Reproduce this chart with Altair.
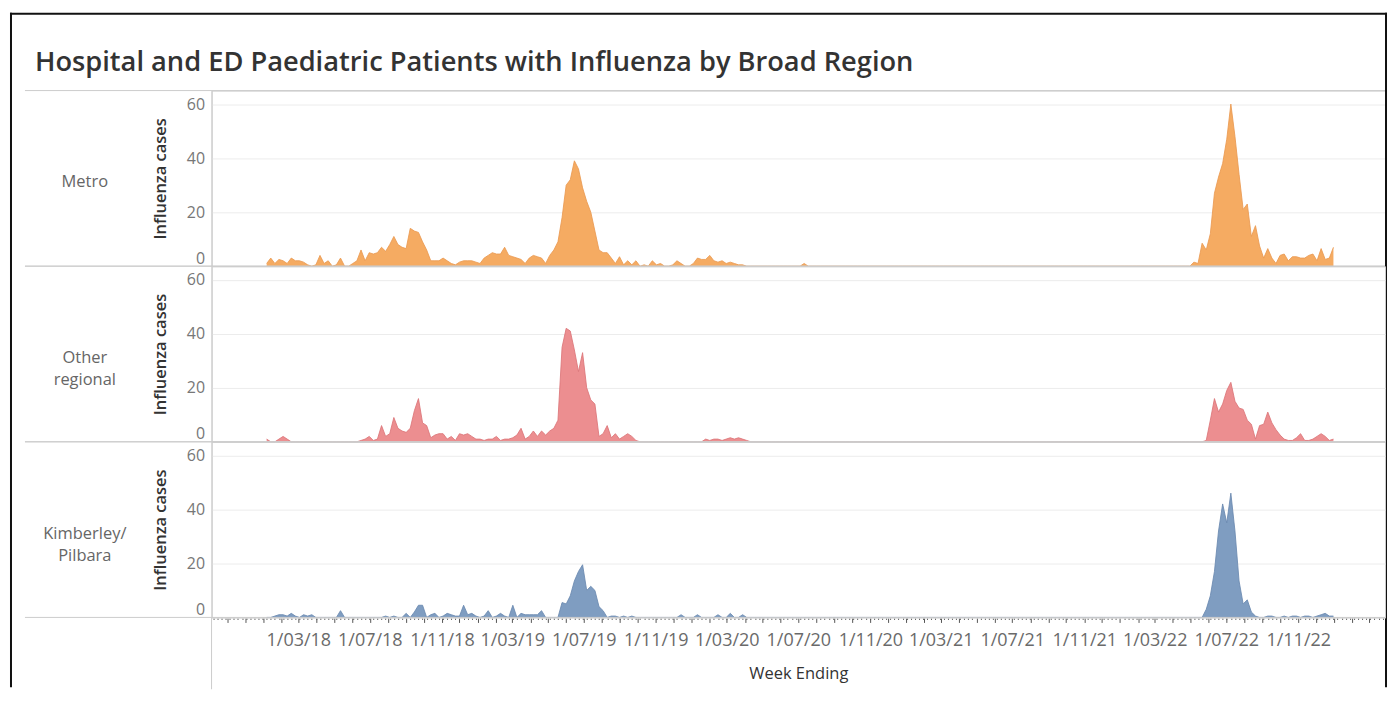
import altair as alt
import pandas as pd

TITLE = "Hospital and ED Paediatric Patients with Influenza by Broad Region"
REGIONS = ["Metro", "Other regional", "Kimberley/Pilbara"]
FILL_COLORS = ["#F5AB62", "#EC8E90", "#7F9DC1"]
LINE_COLORS = ["#EA9A52", "#DC7578", "#6A89B0"]
FIRST_WEEK = "2018-01-06"
N_WEEKS = 261
X_AXIS_TITLE = "Week Ending"
Y_AXIS_TITLE = "Influenza cases"
Y_TICKS = [0, 20, 40, 60]
LABEL_YEARS = [2018, 2022]  # first and last year that carry x tick labels

# weekly case counts (week 0 = w/e 6 Jan 2018)
METRO = (
    [1, 3, 1, 2.5, 2, 1, 3, 2, 2, 1.5,
     0.5, 0, 0.5, 4, 1, 2, 0, 0.5, 3, 0,
     0, 1, 2, 6, 2, 5, 4.5, 5, 7, 5.5,
     8, 11, 8, 7, 6.5, 14, 13, 12.5, 9, 6,
     2, 2, 2, 3, 2, 1, 0.5, 1.5, 2, 2,
     2, 1.5, 1, 3, 4, 5, 4.5, 4.5, 7, 4,
     3.5, 3, 2.5, 1, 3, 4, 3.5, 3, 1, 4,
     6, 9, 18, 30, 32, 39, 36, 29, 24, 20,
     13, 6, 5, 5, 3, 1, 3.5, 0.5, 2, 0.5,
     2, 0]
    + [0.5, 0, 2, 0.5, 1, 0, 0, 0.5, 2, 1,
       0, 0, 1, 3, 2.5, 2.5, 4, 2, 1.5, 2,
       1, 1.5, 1, 0.5, 0.5]
    + [0] * 14 + [1] + [0] * 94
    + [1.5, 1, 8.5, 6, 12, 27, 33, 38, 47, 60,
       48, 34, 21, 23, 11, 15, 7.5, 3, 6.5, 3,
       1, 4, 4.5, 2, 3.5, 3.5, 3, 3, 4, 4.5,
       2, 6.5, 2.5, 3, 7]
)

OTHER = (
    [1, 0, 0, 1, 2, 1, 0, 0, 0, 0,
     0, 0, 0, 0, 0, 0, 0, 0, 0, 0,
     0, 0, 0, 0.5, 1, 2, 0.5, 1, 6, 2,
     3, 9, 5, 4, 3.5, 5, 11.5, 16, 7, 6,
     1.5, 2.5, 3, 3, 1, 2, 0.5, 3, 2.5, 3,
     2, 1, 1, 0.5, 1, 1, 2, 0.5, 1, 1,
     1.5, 2.5, 5, 1, 2, 4, 2, 4, 2.5, 4,
     5, 8, 35, 42, 41, 34, 26, 33, 20, 15.5,
     14, 2, 3, 6, 1.5, 3, 1, 2, 3, 2,
     0.5, 0]
    + [0] * 15
    + [1, 0.5, 1, 1, 0.5, 1, 1.5, 1, 1.5, 1, 0.5]
    + [0] * 111
    + [0.5, 8, 16, 11, 14, 19, 22, 15, 12.5, 12,
       8, 6.5, 1, 6, 6.5, 11, 7, 4.5, 2.5, 1,
       0.5, 0.5, 1.5, 3, 0.5, 0.5, 1, 2, 3, 2,
       0.5, 1]
)

KIMBERLEY = (
    [0, 0, 0.5, 1, 1, 0.5, 1.5, 0.5, 0, 1,
     0.5, 1, 0, 0, 0, 0, 0, 0, 2.5, 0,
     0, 0, 0, 0, 0, 0, 0, 0, 0, 0.5,
     0, 0.5, 0, 0, 1.5, 0, 2, 4.5, 4.5, 0,
     1, 1.5, 0, 0.5, 1.5, 1, 0.5, 0.5, 4.5, 1,
     1.5, 0.5, 0, 0.5, 2.5, 0, 0.5, 1.5, 0.5, 0,
     4.5, 0, 1.5, 1, 1, 1, 1, 2.5, 0, 0,
     0, 0, 5.5, 5, 8, 13.5, 17, 19.5, 10, 11.5,
     10, 4, 2.5, 0, 0.5, 0.5, 0, 0.5, 0, 0.5,
     0, 0]
    + [0] * 9
    + [1, 0, 0, 0, 1, 0, 0, 0, 0, 1, 0, 0, 1.5, 0, 0, 1]
    + [0] * 112
    + [3, 8, 17, 32, 42, 35, 46, 32, 13.5, 5,
       6.5, 2, 0.5, 0, 0, 0.5, 0.5, 0, 0, 0.5,
       0, 0.5, 0.5, 0, 0.5, 0.5, 0, 0.5, 1, 1.5,
       0.5, 0.5]
)

SERIES = [METRO, OTHER, KIMBERLEY]

# ---- table -------------------------------------------------------------
weeks = pd.date_range(FIRST_WEEK, periods=N_WEEKS, freq="7D")
rows = []
for region, values in zip(REGIONS, SERIES):
    assert len(values) == N_WEEKS, (region, len(values))
    for d, v in zip(weeks, values):
        rows.append({"week": d, "region": region, "cases": v})
df = pd.DataFrame(rows)

# ---- layout / style ----------------------------------------------------
FONT = "Open Sans"
W = 1176          # plot width
H = 176           # panel height
LEFT_EXT = 187    # separator lines reach into the label column
GRID_LINE = "#cccccc"
FRAME = "#111111"

X_START = pd.Timestamp("2017-10-04")
X_END = pd.Timestamp("2023-03-29")


def dt(ts):
    return alt.DateTime(year=ts.year, month=ts.month, date=ts.day)


month_ticks = pd.date_range("2017-10-01", "2023-03-01", freq="MS")
week_ticks = pd.date_range("2017-10-07", "2023-03-25", freq="7D")
tick_vals = sorted(set(month_ticks) | set(week_ticks))
tick_values = [dt(t) for t in tick_vals]

label_expr = (
    "(month(datum.value) % 4 == 2 && date(datum.value) == 1 && "
    f"year(datum.value) >= {LABEL_YEARS[0]} && year(datum.value) <= {LABEL_YEARS[1]})"
    " ? timeFormat(datum.value, '%-d/%m/%y') : ''"
)

x_axis = alt.Axis(
    values=tick_values,
    labelExpr=label_expr,
    labelOverlap=False,
    labelFlush=False,
    labelBound=False,
    tickSize={"condition": {"test": "date(datum.value) == 1", "value": 5}, "value": 2},
    tickColor="#555555",
    tickWidth=1,
    domainColor=GRID_LINE,
    grid=False,
    labelFont=FONT,
    labelFontSize=18,
    labelColor="#6a6a6a",
    labelPadding=9,
    title=X_AXIS_TITLE,
    titleFont=FONT,
    titleFontSize=16.5,
    titleFontWeight="normal",
    titleColor="#333333",
    titlePadding=16,
)

y_axis = alt.Axis(
    values=Y_TICKS,
    title=Y_AXIS_TITLE,
    grid=True,
    gridColor="#ececec",
    ticks=False,
    domainColor=GRID_LINE,
    labelFont=FONT,
    labelFontSize=16,
    labelColor="#777777",
    labelPadding=7,
    labelFlush=True,
    titleFont=FONT,
    titleFontSize=16.5,
    titleFontWeight=600,
    titleColor="#333333",
    titlePadding=18,
)

X = alt.X("week:T", scale=alt.Scale(domain=[dt(X_START), dt(X_END)], nice=False), axis=x_axis)
Y = alt.Y("cases:Q", scale=alt.Scale(domain=[0, 65], nice=False), axis=y_axis)

area = alt.Chart().mark_area(interpolate="linear", opacity=1).encode(
    x=X,
    y=Y,
    fill=alt.Fill("region:N", scale=alt.Scale(domain=REGIONS, range=FILL_COLORS), legend=None),
)
line = alt.Chart().mark_line(interpolate="linear", strokeWidth=1, opacity=0.85).encode(
    x=X,
    y=Y,
    stroke=alt.Stroke("region:N", scale=alt.Scale(domain=REGIONS, range=LINE_COLORS), legend=None),
)

per_region = alt.Chart().transform_aggregate(n="count()", groupby=["region"])
first_panel = per_region.transform_filter(alt.datum.region == REGIONS[0])
last_panel = per_region.transform_filter(alt.datum.region == REGIONS[-1])

sep_top = per_region.mark_rule(color=GRID_LINE, strokeWidth=1).encode(
    x=alt.value(-LEFT_EXT), x2=alt.value(W), y=alt.value(0)
)
sep_bottom = per_region.mark_rule(color=GRID_LINE, strokeWidth=1).encode(
    x=alt.value(-LEFT_EXT), x2=alt.value(W), y=alt.value(H)
)
axis_pane_line = last_panel.mark_rule(color=GRID_LINE, strokeWidth=1).encode(
    x=alt.value(0), y=alt.value(H), y2=alt.value(H + 72)
)
row_label = per_region.transform_calculate(
    lines="split(replace(datum.region, '/', '/ '), ' ')"
).mark_text(
    align="center", baseline="middle", font=FONT, fontSize=16.5, color="#666666", lineHeight=22
).encode(x=alt.value(-127), y=alt.value(H / 2 + 4), text="lines:N")

title_text = first_panel.transform_calculate(title=f"'{TITLE}'").mark_text(
    align="left", baseline="middle", font=FONT, fontSize=27.3, fontWeight=600, color="#333333"
).encode(x=alt.value(-177), y=alt.value(-28), text="title:N")

# black outer frame of the picture (top, left, right)
frame_top = first_panel.mark_rule(color=FRAME, strokeWidth=2).encode(
    x=alt.value(-202), x2=alt.value(W + 2), y=alt.value(-77)
)
frame_left = first_panel.mark_rule(color=FRAME, strokeWidth=2).encode(
    x=alt.value(-201), y=alt.value(-78), y2=alt.value(598)
)
frame_right = first_panel.mark_rule(color=FRAME, strokeWidth=2).encode(
    x=alt.value(W + 1), y=alt.value(-78), y2=alt.value(598)
)

cell = alt.layer(
    area, line, sep_top, sep_bottom, axis_pane_line, row_label,
    title_text, frame_top, frame_left, frame_right,
    data=df,
).properties(width=W, height=H)

chart = (
    cell.facet(
        row=alt.Row("region:N", sort=REGIONS, header=alt.Header(labels=False, title=None)),
        spacing=0,
        bounds="flush",
    )
    .resolve_axis(y="independent")
    .properties(padding={"left": 0, "top": 2, "right": 0, "bottom": 2})
    .configure_view(stroke=GRID_LINE)
)

chart.save("out.html", embed_options={"renderer": "svg", "actions": False})
